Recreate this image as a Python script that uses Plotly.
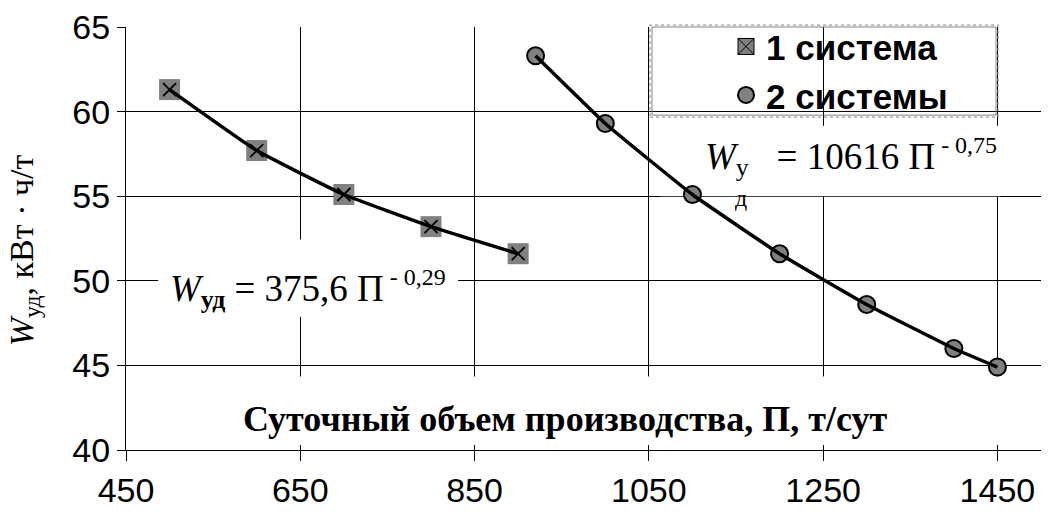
import plotly.graph_objects as go

# Daily production volume, t/day, and specific energy use, kWh/t
sys1_x = [500, 600, 700, 800, 900]
sys1_y = [61.3, 57.7, 55.1, 53.2, 51.6]

sys2_x = [920, 1000, 1100, 1200, 1300, 1400, 1450]
sys2_y = [63.3, 59.3, 55.1, 51.6, 48.6, 46.0, 44.9]

x_ticks = [450, 650, 850, 1050, 1250, 1450]
y_ticks = [40, 45, 50, 55, 60, 65]

legend_names = ["1 система", "2 системы"]

SANS = "Liberation Sans, Arial, sans-serif"
SERIF = "Liberation Serif, Times New Roman, serif"
GRAY = "#808080"

fig = go.Figure()

# system 1: gray squares
fig.add_trace(go.Scatter(
    x=sys1_x, y=sys1_y, mode="markers", showlegend=False,
    marker=dict(symbol="square", size=21, color=GRAY, line=dict(width=0)),
))
# system 2: gray circles
fig.add_trace(go.Scatter(
    x=sys2_x, y=sys2_y, mode="markers", showlegend=False,
    marker=dict(symbol="circle", size=17, color=GRAY, line=dict(color="black", width=2)),
))
# power-law trend curves
fig.add_trace(go.Scatter(
    x=sys1_x, y=sys1_y, mode="lines", showlegend=False,
    line=dict(color="black", width=3.5, shape="spline", smoothing=0.35),
))
fig.add_trace(go.Scatter(
    x=sys2_x, y=sys2_y, mode="lines", showlegend=False,
    line=dict(color="black", width=3.5, shape="spline", smoothing=0.35),
))
# crosses on top of the system 1 squares
fig.add_trace(go.Scatter(
    x=sys1_x, y=sys1_y, mode="markers", showlegend=False,
    marker=dict(symbol="x-thin-open", size=13, color="black", line=dict(color="black", width=1.8)),
))

# legend entries
fig.add_trace(go.Scatter(
    x=[None], y=[None], mode="markers", name=legend_names[0],
    marker=dict(symbol="square-x", size=21, color=GRAY, line=dict(color="black", width=1)),
))
fig.add_trace(go.Scatter(
    x=[None], y=[None], mode="markers", name=legend_names[1],
    marker=dict(symbol="circle", size=17, color=GRAY, line=dict(color="black", width=2)),
))

shapes = [
    # white backing behind the in-plot labels (hides gridlines, not curves)
    dict(type="rect", xref="x", yref="y", x0=487, x1=831, y0=47.87, y1=52.44,
         fillcolor="white", line=dict(width=0), layer="between"),
    dict(type="rect", xref="x", yref="y", x0=1063, x1=1454, y0=55.0, y1=59.16,
         fillcolor="white", line=dict(width=0), layer="between"),
    dict(type="rect", xref="x", yref="y", x0=452, x1=1500, y0=40.3, y1=44.34,
         fillcolor="white", line=dict(width=0), layer="between"),
    # legend frame
    dict(type="rect", xref="paper", yref="paper",
         x0=(650 - 126) / 915, x1=(998 - 126) / 915,
         y0=(458 - 118) / 432, y1=(458 - 24) / 432,
         line=dict(color="#9a9a9a", width=1.2, dash="dot"), layer="above"),
    dict(type="rect", xref="paper", yref="paper",
         x0=(652 - 126) / 915, x1=(996 - 126) / 915,
         y0=(458 - 116) / 432, y1=(458 - 26) / 432,
         line=dict(color="#666666", width=0.8), layer="above"),
]

SUP = '<sup><span style="font-size:24px"> - {}</span></sup>'

annotations = [
    dict(text="<b>Суточный объем производства, П, т/сут</b>",
         x=953.8, y=41.85, xref="x", yref="y", showarrow=False,
         xanchor="center", yanchor="middle",
         font=dict(family=SERIF, size=36, color="black")),
    dict(text="<i>W</i><sub><b>уд</b></sub> = 375,6 П" + SUP.format("0,29"),
         x=498, y=49.5, xref="x", yref="y", showarrow=False,
         xanchor="left", yanchor="middle",
         font=dict(family=SERIF, size=37, color="black")),
    dict(text="<i>W</i><sub>у</sub>   = 10616 П" + SUP.format("0,75"),
         x=1112, y=57.3, xref="x", yref="y", showarrow=False,
         xanchor="left", yanchor="middle",
         font=dict(family=SERIF, size=37, color="black")),
    dict(text="д", x=1156, y=54.87, xref="x", yref="y", showarrow=False,
         xanchor="center", yanchor="middle",
         font=dict(family=SERIF, size=24, color="black")),
    dict(text="<i>W</i><sub>уд</sub>, кВт · ч/т",
         x=(24 - 126) / 915, y=(458 - 254) / 432, xref="paper", yref="paper",
         showarrow=False, textangle=-90, xanchor="center", yanchor="middle",
         font=dict(family=SERIF, size=34, color="black")),
]

fig.update_layout(
    width=1049, height=517,
    margin=dict(l=126, r=8, t=26, b=59),
    paper_bgcolor="white", plot_bgcolor="white",
    shapes=shapes, annotations=annotations,
    legend=dict(
        x=(726 - 126) / 915, y=(458 - 16) / 432, xanchor="left", yanchor="top",
        bgcolor="rgba(0,0,0,0)", borderwidth=0,
        font=dict(family=SANS, size=35, color="black", weight="bold"),
        itemsizing="trace", tracegroupgap=0,
    ),
    showlegend=True,
)

fig.update_xaxes(
    range=[450, 1500], tickvals=x_ticks, ticktext=[str(v) for v in x_ticks],
    showgrid=True, gridcolor="black", gridwidth=1, zeroline=False,
    showline=True, linecolor="black", linewidth=1,
    ticks="outside", ticklen=10, tickcolor="black", tickwidth=1,
    tickfont=dict(family=SANS, size=34, color="black"),
)
fig.update_yaxes(
    range=[40, 65], tickvals=y_ticks, ticktext=[str(v) for v in y_ticks],
    showgrid=True, gridcolor="black", gridwidth=1, zeroline=False,
    showline=True, linecolor="black", linewidth=1,
    ticks="outside", ticklen=8, tickcolor="black", tickwidth=1,
    tickfont=dict(family=SANS, size=34, color="black"),
)

fig.write_html("out.html")
